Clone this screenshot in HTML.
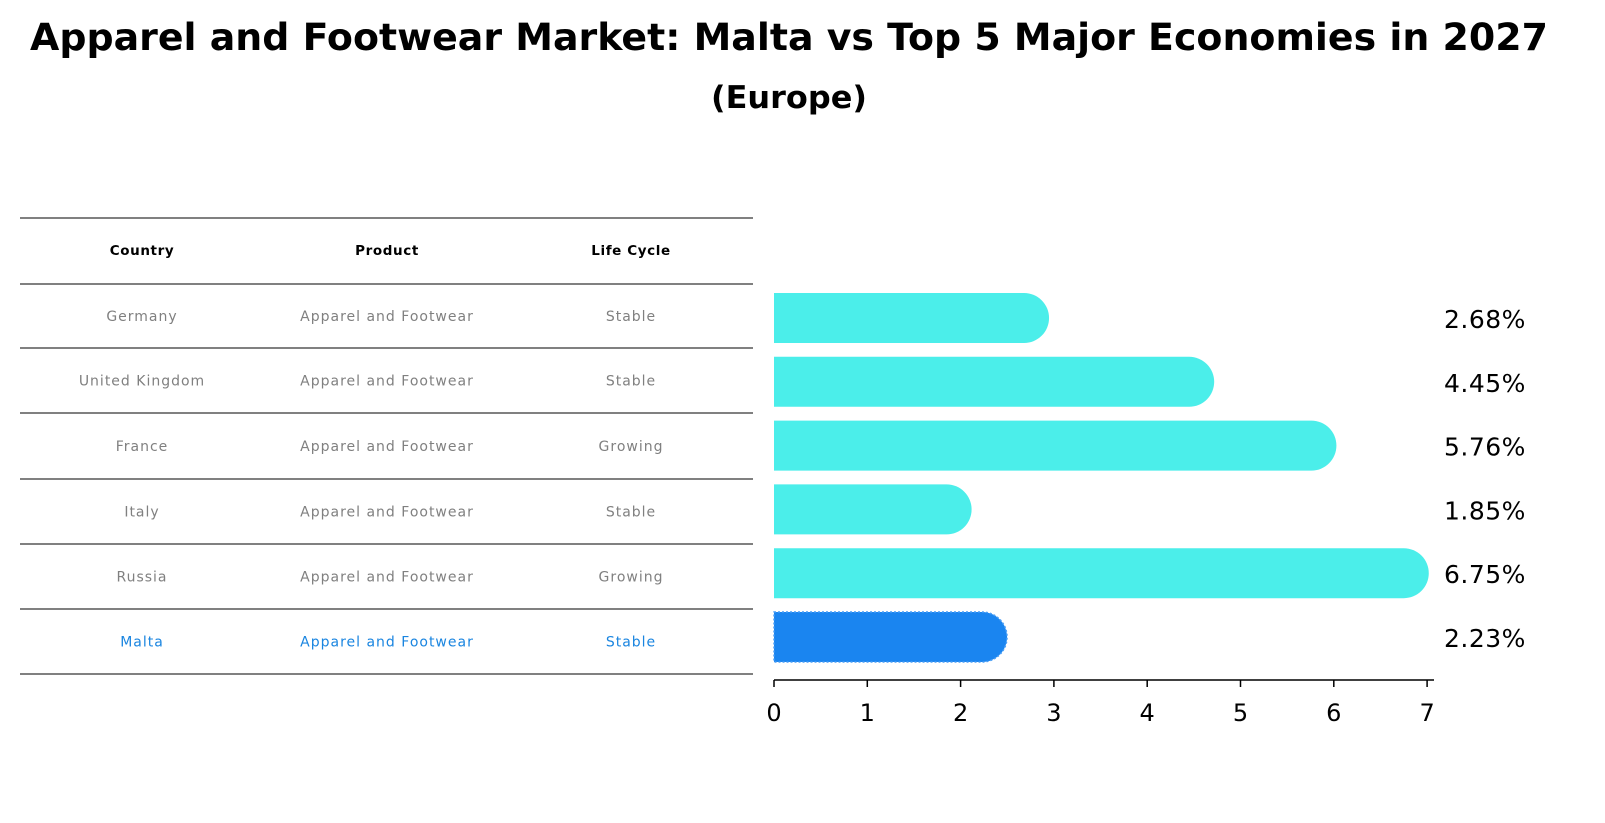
<!DOCTYPE html>
<html><head><meta charset="utf-8"><style>
body{margin:0;background:#fff;font-family:"Liberation Sans","DejaVu Sans",sans-serif}
#root{position:relative;width:1605px;height:823px;overflow:hidden}
</style></head><body>
<div id="root">
<svg id="svg" width="1605" height="823" xmlns="http://www.w3.org/2000/svg">
<text x="789" y="50" text-anchor="middle" font-size="37.5" font-weight="bold" textLength="1518" lengthAdjust="spacingAndGlyphs" font-family="DejaVu Sans, Liberation Sans, sans-serif">Apparel and Footwear Market: Malta vs Top 5 Major Economies in 2027</text>
<text x="789" y="108" text-anchor="middle" font-size="31" font-weight="bold" textLength="156" lengthAdjust="spacingAndGlyphs" font-family="DejaVu Sans, Liberation Sans, sans-serif">(Europe)</text>
<g id="table"></g>
<g id="bars"></g>
<g id="axis"></g>
</svg>
</div>
<script>
const countries=["Germany","United Kingdom","France","Italy","Russia","Malta"];
const products=["Apparel and Footwear","Apparel and Footwear","Apparel and Footwear","Apparel and Footwear","Apparel and Footwear","Apparel and Footwear"];
const lifecycle=["Stable","Stable","Growing","Stable","Growing","Stable"];
const values=[2.68,4.45,5.76,1.85,6.75,2.23];
const ticks=[0,1,2,3,4,5,6,7];
const NS="http://www.w3.org/2000/svg";
function mk(t,a,p){const e=document.createElementNS(NS,t);for(const k in a)e.setAttribute(k,a[k]);p.appendChild(e);return e;}
const x=v=>774+v*93.3;
const rowY=i=>318+i*63.8;
const tb=document.getElementById('table');
const lines=[218,284,348,413,479,544,609,674];
lines.forEach((y,i)=>{const l=mk('line',{x1:20,x2:753,y1:y,y2:y,stroke:'#000','stroke-width':1},tb);

});
const colX=[142,387,631];
["Country","Product","Life Cycle"].forEach((h,j)=>{const t=mk('text',{x:colX[j],y:255,'text-anchor':'middle','font-size':13.5,'font-weight':'bold','letter-spacing':'0.6','font-family':'DejaVu Sans, sans-serif'},tb);t.textContent=h;

});
countries.forEach((c,i)=>{const y=(lines[i+1]+lines[i+2])/2+5;const col=c==="Malta"?"#1a85e0":"#808080";
[c,products[i],lifecycle[i]].forEach((s,j)=>{const t=mk('text',{x:colX[j],y:y,'text-anchor':'middle','font-size':14,'letter-spacing':'1','font-family':'DejaVu Sans, sans-serif',fill:col},tb);t.textContent=s;

});});
const bg=document.getElementById('bars');
values.forEach((v,i)=>{const cy=rowY(i);const malta=countries[i]==="Malta";const fill=malta?"#1a85f0":"#4beeea";
const p=mk('path',{d:`M${x(0)},${cy-25} H${x(v)} A25,25 0 0 1 ${x(v)},${cy+25} H${x(0)} Z`,fill:fill,stroke:malta?"#4a9ef5":"none",'stroke-dasharray':malta?"2,2":"none",'stroke-width':malta?1.5:0},bg);


const t=mk('text',{x:1444,y:cy+10,'font-size':25,'letter-spacing':'0.5','font-family':'DejaVu Sans, sans-serif'},bg);t.textContent=v.toFixed(2)+"%";

});
const ax=document.getElementById('axis');
const al=mk('line',{x1:774,x2:1434,y1:680,y2:680,stroke:'#000','stroke-width':1.5},ax);


ticks.forEach(v=>{const tl=mk('line',{x1:x(v),x2:x(v),y1:680,y2:687,stroke:'#000','stroke-width':1.5},ax);


const t=mk('text',{x:x(v),y:721,'text-anchor':'middle','font-size':24,'font-family':'DejaVu Sans, sans-serif'},ax);t.textContent=v;

});
</script>
</body></html>
